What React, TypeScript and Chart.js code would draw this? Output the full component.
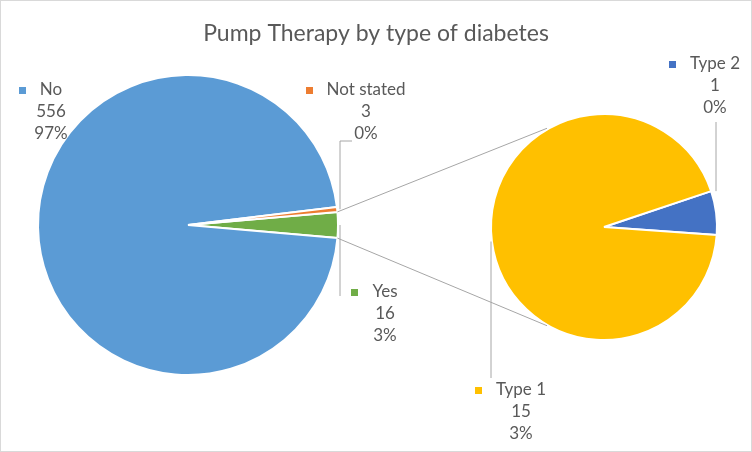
import React, { useEffect, useRef } from "react";
import { Chart, registerables } from "chart.js";
Chart.register(...registerables);

const chartTitle = "Pump Therapy by type of diabetes";
const mainLabels = ["Yes", "No", "Not stated"];
const mainValues = [16, 556, 3];
const mainColors = ["#70AD47", "#5B9BD5", "#ED7D31"];
const subLabels = ["Type 2", "Type 1"];
const subValues = [1, 15];
const subColors = ["#4472C4", "#FFC000"];

// percentages rounded with the largest-remainder method (as Excel does)
function roundedPercents(values: number[]): number[] {
  const tot = values.reduce((a, b) => a + b, 0);
  const raw = values.map((v) => (v / tot) * 100);
  const fl = raw.map(Math.floor);
  let left = 100 - fl.reduce((a, b) => a + b, 0);
  const order = raw.map((r, i) => [r - fl[i], i]).sort((a, b) => b[0] - a[0]);
  for (let k = 0; k < order.length && left > 0; k++, left--) fl[order[k][1]]++;
  return fl;
}
const mainPct = roundedPercents(mainValues);
const leafPct = roundedPercents([...mainValues.slice(1), ...subValues]);
const subPct = leafPct.slice(mainValues.length - 1);

const FONT = "Lato, 'Open Sans', sans-serif";
const TEXT = "#595959";
const LINE = "#A6A6A6";

// label layout: text centre x, first line y, leader path (first point anchored on arc)
const mainLabelLayout: Record<string, { cx: number; y: number; leader?: number[][] }> = {
  "No": { cx: 51, y: 90 },
  "Not stated": { cx: 366, y: 90, leader: [[340, 141], [352, 141]] },
  "Yes": { cx: 385, y: 292, leader: [[340, 296]] },
};
const subLabelLayout: Record<string, { cx: number; y: number; leader?: number[][] }> = {
  "Type 2": { cx: 715, y: 64, leader: [[716, 122]] },
  "Type 1": { cx: 521, y: 390, leader: [[491, 378]] },
};

function drawLabel(ctx: CanvasRenderingContext2D, name: string, value: number, p: number, color: string, cx: number, y: number) {
  ctx.save();
  ctx.font = `17px ${FONT}`;
  ctx.fillStyle = TEXT;
  ctx.textAlign = "center";
  ctx.textBaseline = "middle";
  const lines = [name, String(value), p + "%"];
  const lh = 22;
  lines.forEach((t, i) => ctx.fillText(t, cx, y + i * lh));
  const w = ctx.measureText(name).width;
  ctx.fillStyle = color;
  ctx.fillRect(Math.round(cx - w / 2 - 21), Math.round(y - 3.5), 7, 7);
  ctx.restore();
}

export default function App() {
  const leftRef = useRef<HTMLCanvasElement>(null);
  const rightRef = useRef<HTMLCanvasElement>(null);

  useEffect(() => {
    const total = mainValues.reduce((a, b) => a + b, 0);
    const yesDeg = (mainValues[0] / total) * 360;
    const left = new Chart(leftRef.current!, {
      type: "pie",
      data: {
        labels: mainLabels,
        datasets: [{ data: mainValues, backgroundColor: mainColors, borderColor: "#ffffff", borderWidth: 2 }],
      },
      options: {
        responsive: false,
        animation: false,
        events: [],
        rotation: 90 - yesDeg / 2,
        layout: { padding: { left: 37, right: 413, top: 74, bottom: 76 } },
        plugins: { legend: { display: false }, tooltip: { enabled: false } },
      },
      plugins: [
        {
          id: "bgTitle",
          beforeDraw(chart) {
            const ctx = chart.ctx;
            ctx.save();
            ctx.fillStyle = "#ffffff";
            ctx.fillRect(0, 0, chart.width, chart.height);
            ctx.strokeStyle = "#D9D9D9";
            ctx.lineWidth = 1;
            ctx.strokeRect(0.5, 0.5, chart.width - 1, chart.height - 1);
            ctx.font = `23px ${FONT}`;
            ctx.fillStyle = TEXT;
            ctx.textAlign = "center";
            ctx.textBaseline = "middle";
            ctx.fillText(chartTitle, chart.width / 2, 34);
            ctx.restore();
          },
        },
      ],
    });

    const right = new Chart(rightRef.current!, {
      type: "pie",
      data: {
        labels: subLabels,
        datasets: [{ data: subValues, backgroundColor: subColors, borderColor: "#ffffff", borderWidth: 2 }],
      },
      options: {
        responsive: false,
        animation: false,
        events: [],
        rotation: 71.5,
        layout: { padding: { left: 490, right: 34, top: 113, bottom: 111 } },
        plugins: { legend: { display: false }, tooltip: { enabled: false } },
      },
      plugins: [
        {
          id: "annotations",
          afterDraw(chart) {
            const ctx = chart.ctx;
            const lArcs = left.getDatasetMeta(0).data as any[];
            const rArcs = chart.getDatasetMeta(0).data as any[];
            ctx.save();
            ctx.strokeStyle = LINE;
            ctx.lineWidth = 1;
            // connector lines between the "Yes" slice and the secondary pie
            const yes = lArcs[0];
            const sub = rArcs[0];
            const R = sub.outerRadius + 1;
            const pts = [
              [yes.startAngle, -2 * Math.PI / 3],
              [yes.endAngle, 2 * Math.PI / 3],
            ];
            pts.forEach(([a, b]) => {
              ctx.beginPath();
              ctx.moveTo(yes.x + Math.cos(a) * yes.outerRadius, yes.y + Math.sin(a) * yes.outerRadius);
              ctx.lineTo(sub.x + Math.cos(b) * R, sub.y + Math.sin(b) * R);
              ctx.stroke();
            });
            // leaders + labels
            const doSet = (arcs: any[], labels: string[], values: number[], pcts: number[], colors: string[], layout: any) => {
              arcs.forEach((arc, i) => {
                const L = layout[labels[i]];
                if (!L) return;
                if (L.leader) {
                  const mid = (arc.startAngle + arc.endAngle) / 2;
                  const r = arc.outerRadius + 2;
                  let sy = arc.y + Math.sin(mid) * r;
                  const first = L.leader[0];
                  if (labels[i] === "Type 2") {
                    const sx = first[0] - 2;
                    sy = arc.y - Math.sqrt(Math.max(arc.outerRadius ** 2 - (sx - arc.x) ** 2, 0)) - 10;
                  }
                  ctx.beginPath();
                  ctx.moveTo(first[0], sy);
                  L.leader.forEach((p: number[]) => ctx.lineTo(p[0], p[1]));
                  ctx.stroke();
                }
                drawLabel(ctx, labels[i], values[i], pcts[i], colors[i], L.cx, L.y);
              });
            };
            doSet(lArcs, mainLabels, mainValues, mainPct, mainColors, mainLabelLayout);
            doSet(rArcs, subLabels, subValues, subPct, subColors, subLabelLayout);
            ctx.restore();
          },
        },
      ],
    });

    return () => {
      right.destroy();
      left.destroy();
    };
  }, []);

  return (
    <div style={{ position: "fixed", left: 0, top: 0, width: 752, height: 452 }}>
      <canvas ref={leftRef} width={752} height={452} style={{ position: "absolute", left: 0, top: 0 }} />
      <canvas ref={rightRef} width={752} height={452} style={{ position: "absolute", left: 0, top: 0 }} />
    </div>
  );
}
